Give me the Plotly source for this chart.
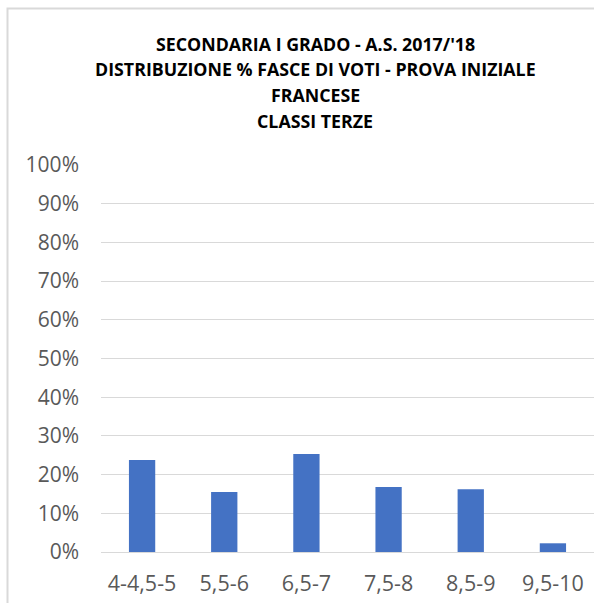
import plotly.graph_objects as go

categories = ["4-4,5-5", "5,5-6", "6,5-7", "7,5-8", "8,5-9", "9,5-10"]
percent_values = [23.8, 15.5, 25.3, 16.8, 16.2, 2.25]
title_lines = [
    "SECONDARIA I GRADO - A.S. 2017/'18",
    "DISTRIBUZIONE % FASCE DI VOTI - PROVA INIZIALE",
    "FRANCESE",
    "CLASSI TERZE",
]
y_tick_values = [i / 10 for i in range(11)]

W, H = 594, 603
ML, MR, MT, MB = 101, 0, 165, 51
PW, PH = W - ML - MR, H - MT - MB

def px_x(x):
    return (x - ML) / PW

def px_y(y):
    return (H - MB - y) / PH

fig = go.Figure(
    go.Bar(
        x=categories,
        y=[v / 100 for v in percent_values],
        marker=dict(color="#4472C4", line=dict(width=0)),
        hoverinfo="x+y",
    )
)

title_y_px = [43.5, 69, 95.5, 121]
annotations = [
    dict(
        text=f"<b>{t}</b>", x=px_x(315), y=px_y(yy), xref="paper", yref="paper",
        xanchor="center", yanchor="middle", showarrow=False,
        font=dict(family="Open Sans", size=17.8, color="#000000"),
    )
    for t, yy in zip(title_lines, title_y_px)
]

fig.update_layout(
    width=W, height=H,
    margin=dict(l=ML, r=MR, t=MT, b=MB, pad=0),
    paper_bgcolor="white", plot_bgcolor="white",
    bargap=0.68,
    showlegend=False,
    annotations=annotations,
    shapes=[dict(
        type="rect", xref="paper", yref="paper",
        x0=px_x(7.5), x1=px_x(W + 20), y0=px_y(H + 20), y1=px_y(8.5),
        line=dict(color="#d9d9d9", width=2), fillcolor="rgba(0,0,0,0)", layer="below",
    )],
    font=dict(family="Open Sans", color="#595959"),
)
fig.update_xaxes(
    showgrid=False, showline=False, zeroline=False, ticks="",
    tickfont=dict(size=21.5, color="#595959"), ticklabelstandoff=16,
)
fig.update_yaxes(
    range=[0, 1], tickvals=y_tick_values, tickformat=".0%",
    showgrid=True, gridcolor="#d9d9d9", gridwidth=1,
    zeroline=True, zerolinecolor="#d9d9d9", zerolinewidth=1,
    showline=False, ticks="", tickfont=dict(size=21, color="#595959"),
    ticklabelstandoff=21,
)

fig.write_html(
    "out.html",
    config={"displayModeBar": False},
    post_script="document.body.style.margin='0';document.body.style.overflow='hidden';",
)
